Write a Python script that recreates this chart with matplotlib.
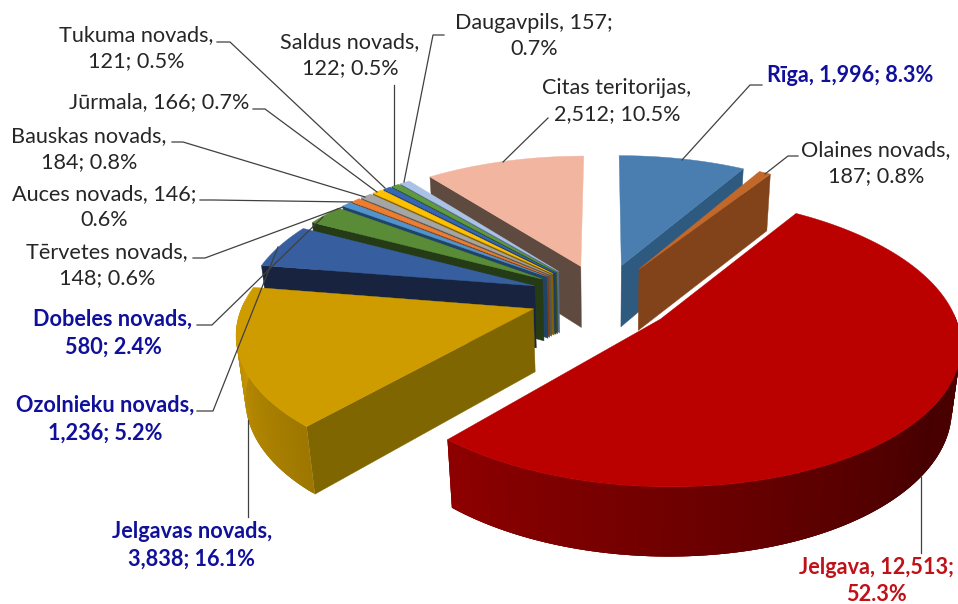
# -*- coding: utf-8 -*-
import numpy as np
import matplotlib
matplotlib.use("Agg")
import matplotlib.pyplot as plt
from matplotlib.colors import to_rgb

plt.rcParams['font.family'] = ['Lato', 'DejaVu Sans']

names = ["Rīga", "Olaines novads", "Jelgava", "Jelgavas novads", "Ozolnieku novads",
         "Dobeles novads", "Tērvetes novads", "Auces novads", "Bauskas novads", "Jūrmala",
         "Tukuma novads", "Saldus novads", "Daugavpils", "Citas teritorijas"]
values = [1996, 187, 12513, 3838, 1236, 580, 148, 146, 184, 166, 121, 122, 157, 2512]

top_colors = ["#4a7eb0", "#c2682a", "#bb0000", "#cf9c00", "#375e9f", "#5a8b36", "#4f94d0",
              "#ed7d31", "#a5a5a5", "#ffc000", "#3565b5", "#5f9a3c", "#a9c2e6", "#f2b6a0"]
wall_colors = ["#2f5a80", "#83431a", "#8f0000", "#806600", "#17233f", "#243b16", "#1f4468",
               "#7a3f17", "#555555", "#806000", "#1f3b6a", "#2f4d1d", "#566a85", "#5f4a40"]

# 0 = one line, 1 = break after the name, 2 = break after the value
breaks = [0, 1, 2, 1, 1, 1, 1, 2, 1, 0, 1, 1, 2, 1]
label_x = [850, 876, 876, 192, 105, 113, 107, 104, 89, 159, 136, 350, 534, 617]
label_y = [76, 163, 581, 545, 419, 333, 265, 207, 149, 102, 48, 55, 36, 101]
label_colors = {0: "#10109a", 2: "#c01018", 3: "#10109a", 4: "#10109a", 5: "#10109a"}

leaders = [[(682, 160), (750, 85), (762, 85)],
           [(765, 174), (788, 156), (798, 156)],
           [(921, 477), (921, 553)],
           [(248, 420), (248, 517)],
           [(278, 247), (213, 411), (197, 411)],
           [(323, 217), (212, 325), (197, 325)],
           [(343, 207), (205, 258), (193, 258)],
           [(352, 202), (213, 200), (200, 200)],
           [(365, 197), (183, 142), (172, 142)],
           [(377, 192), (265, 109), (253, 109)],
           [(385, 188), (230, 42), (217, 42)],
           [(394, 185), (394, 85)],
           [(404, 182), (433, 35), (444, 35)],
           [(503, 162), (548, 118)]]

# camera
CX, CY = 604, 296
A, B = 288, 135
P = 0.15
HEIGHT, DEPTH = 64, 0.025
EXPLODE = 0.24
LEFT_STRETCH = 1.07
NEAR_STRETCH = 1.15


def project(u, v, z=0):
    w = 1 - P * v + DEPTH * z
    return CX + A * u / w, CY + (B * v + HEIGHT * z) / w


def shade(color, f):
    return tuple(c * f for c in to_rgb(color))


def rim_shade(theta):
    return np.interp(theta, [90, 125, 221, 270], [0.42, 0.38, 0.76, 0.97])


def draw_face(ax, ua, va, ub, vb, color):
    xa, ya = project(ua, va)
    xb, yb = project(ub, vb)
    xc, yc = project(ub, vb, 1)
    xd, yd = project(ua, va, 1)
    ax.fill([xa, xb, xc, xd], [ya, yb, yc, yd], color=color, lw=0.3)


def draw_slice(ax, start, end, top, wall):
    mid = np.radians((start + end) / 2)
    ua, va = EXPLODE * np.sin(mid), -EXPLODE * np.cos(mid)
    if ua < 0:
        ua *= LEFT_STRETCH
    if va > 0:
        va *= NEAR_STRETCH
    th = np.linspace(start, end, max(int(end - start) * 2, 4))
    u = ua + np.sin(np.radians(th))
    v = va - np.cos(np.radians(th))

    if np.sin(np.radians(start)) < -0.01:
        draw_face(ax, ua, va, u[0], v[0], wall)
    if np.sin(np.radians(end)) > 0.01:
        draw_face(ax, ua, va, u[-1], v[-1], wall)

    # outer wall, overlapping strips for the gradient
    for i in range(len(th) - 1):
        if 88 < th[i] < 272:
            j = min(i + 3, len(th) - 1)
            x0, y0 = project(u[i], v[i])
            x1, y1 = project(u[j], v[j])
            x2, y2 = project(u[j], v[j], 1)
            x3, y3 = project(u[i], v[i], 1)
            c = shade(top, rim_shade(th[i]))
            ax.fill([x0, x1, x2, x3], [y0, y1, y2, y3], color=c, lw=0)

    x, y = project(np.r_[ua, u], np.r_[va, v])
    ax.fill(x, y, color=top, lw=0.3)


def label_text(i):
    pct = f"{values[i] / sum(values):.1%}"
    if breaks[i] == 1:
        return f"{names[i]},\n{values[i]:,}; {pct}"
    if breaks[i] == 2:
        return f"{names[i]}, {values[i]:,};\n{pct}"
    return f"{names[i]}, {values[i]:,}; {pct}"


fig = plt.figure(figsize=(9.58, 6.04), dpi=100)
ax = fig.add_axes([0, 0, 1, 1])
ax.set_xlim(0, 958)
ax.set_ylim(604, 0)
ax.axis("off")

edges = np.r_[0, np.cumsum(values)] / sum(values) * 360

# back to front
order = list(range(13, 2, -1)) + [0, 1, 2]
for i in order:
    draw_slice(ax, edges[i], edges[i + 1], top_colors[i], wall_colors[i])

for pts in leaders:
    ax.plot(*zip(*pts), color="#404040", lw=0.9)

for i in range(len(names)):
    bold = i in label_colors
    ax.text(label_x[i], label_y[i], label_text(i), ha="center", va="center",
            fontsize=15.6, linespacing=1.41, color=label_colors.get(i, "#262626"),
            fontweight="bold" if bold else "normal")

fig.savefig("out.png", dpi=100)
